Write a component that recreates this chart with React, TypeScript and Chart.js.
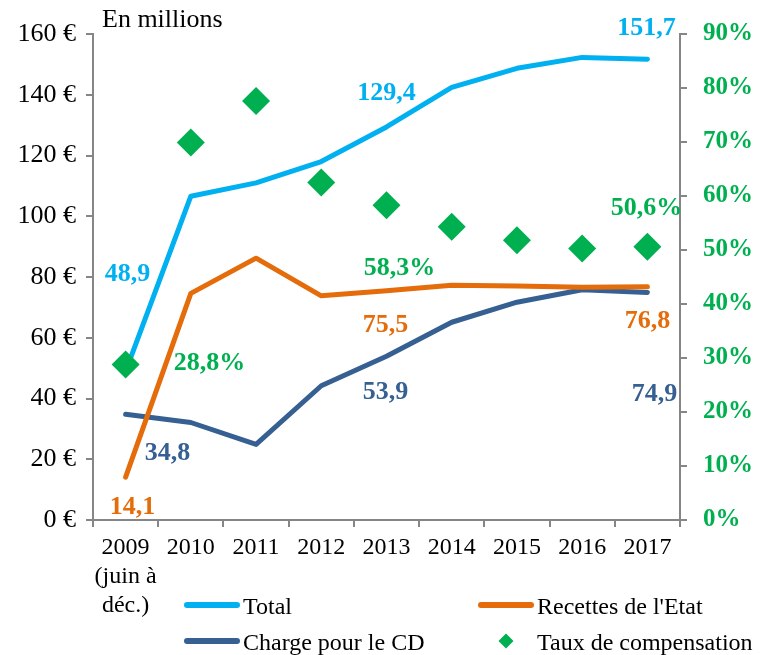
import React, { useEffect, useRef } from 'react';
import { Chart, registerables } from 'chart.js';

Chart.register(...registerables);

const SERIF = "'Liberation Serif', 'Times New Roman', serif";

const categories: (string | string[])[] = [
  ['2009', '(juin à', 'déc.)'],
  '2010', '2011', '2012', '2013', '2014', '2015', '2016', '2017',
];
const totalValues = [48.9, 106.6, 111.0, 118.0, 129.4, 142.4, 148.7, 152.3, 151.7];
const recettesValues = [14.1, 74.6, 86.2, 73.8, 75.5, 77.3, 77.0, 76.6, 76.8];
const chargeValues = [34.8, 32.1, 24.9, 44.2, 53.9, 65.1, 71.7, 75.8, 74.9];
const tauxValues = [28.8, 69.9, 77.6, 62.5, 58.3, 54.3, 51.8, 50.3, 50.6];

const leftMax = 160;
const leftStep = 20;
const rightMax = 90;
const rightStep = 10;

const seriesNames = ['Total', "Recettes de l'Etat", 'Charge pour le CD', 'Taux de compensation'];
const seriesColors = ['#00B0F0', '#E46C0A', '#376092', '#00B050'];
const seriesValues = [totalValues, recettesValues, chargeValues, tauxValues];

// which points carry a value label, and where the label sits relative to its point
const labelledPoints = [
  { ds: 0, idx: 0, dx: 2, dy: -97 },
  { ds: 0, idx: 4, dx: 0, dy: -34 },
  { ds: 0, idx: 8, dx: -1, dy: -31 },
  { ds: 1, idx: 0, dx: 7, dy: 30 },
  { ds: 1, idx: 4, dx: -1, dy: 35 },
  { ds: 1, idx: 8, dx: 0, dy: 35 },
  { ds: 2, idx: 0, dx: 42, dy: 39 },
  { ds: 2, idx: 4, dx: -1, dy: 36 },
  { ds: 2, idx: 8, dx: 7, dy: 102 },
  { ds: 3, idx: 0, dx: 84, dy: -1 },
  { ds: 3, idx: 4, dx: 13, dy: 63 },
  { ds: 3, idx: 8, dx: -1, dy: -38 },
];

const fmt = (v: number) => v.toFixed(1).replace('.', ',');

const overlayPlugin = {
  id: 'overlay',
  afterDatasetsDraw(chart: any) {
    const ctx = chart.ctx as CanvasRenderingContext2D;
    ctx.save();
    ctx.font = `bold 26px ${SERIF}`;
    ctx.textAlign = 'center';
    ctx.textBaseline = 'middle';
    for (const lp of labelledPoints) {
      const el = chart.getDatasetMeta(lp.ds).data[lp.idx];
      const v = seriesValues[lp.ds][lp.idx];
      const text = lp.ds === 3 ? fmt(v) + '%' : fmt(v);
      ctx.fillStyle = seriesColors[lp.ds];
      ctx.fillText(text, el.x + lp.dx, el.y + lp.dy);
    }
    ctx.restore();
  },
  afterDraw(chart: any) {
    const ctx = chart.ctx as CanvasRenderingContext2D;
    const area = chart.chartArea;
    ctx.save();
    // unit caption
    ctx.font = `26px ${SERIF}`;
    ctx.fillStyle = '#000';
    ctx.textAlign = 'left';
    ctx.textBaseline = 'alphabetic';
    ctx.fillText('En millions', area.left + 9, 27);

    // legend
    const items = [
      { ds: 0, x: 184, y: 605 },
      { ds: 1, x: 478, y: 605 },
      { ds: 2, x: 184, y: 641 },
      { ds: 3, x: 478, y: 641 },
    ];
    ctx.font = `24px ${SERIF}`;
    for (const it of items) {
      const color = seriesColors[it.ds];
      if (it.ds === 3) {
        const cx = it.x + 28;
        const r = 7.5;
        ctx.fillStyle = color;
        ctx.beginPath();
        ctx.moveTo(cx - r, it.y);
        ctx.lineTo(cx, it.y - r);
        ctx.lineTo(cx + r, it.y);
        ctx.lineTo(cx, it.y + r);
        ctx.closePath();
        ctx.fill();
      } else {
        ctx.strokeStyle = color;
        ctx.lineWidth = 6;
        ctx.lineCap = 'round';
        ctx.beginPath();
        ctx.moveTo(it.x + 3, it.y);
        ctx.lineTo(it.x + 53, it.y);
        ctx.stroke();
      }
      ctx.fillStyle = '#000';
      ctx.textBaseline = 'alphabetic';
      ctx.fillText(seriesNames[it.ds], it.x + 59, it.y + 9);
    }
    ctx.restore();
  },
};

const AXIS_GRAY = '#868686';

export default function App() {
  const ref = useRef<HTMLCanvasElement>(null);
  useEffect(() => {
    document.body.style.margin = '0';
    if (!ref.current) return;
    const lineDs = (i: number, order: number) => ({
      type: 'line' as const,
      label: seriesNames[i],
      data: seriesValues[i],
      borderColor: seriesColors[i],
      backgroundColor: seriesColors[i],
      borderWidth: 5,
      pointRadius: 0,
      tension: 0,
      borderCapStyle: 'round' as const,
      borderJoinStyle: 'round' as const,
      yAxisID: 'y',
      order,
    });
    const chart = new Chart(ref.current, {
      type: 'line',
      data: {
        labels: categories,
        datasets: [
          lineDs(0, 3),
          lineDs(1, 1),
          lineDs(2, 2),
          {
            type: 'line',
            label: seriesNames[3],
            data: tauxValues,
            showLine: false,
            pointStyle: 'rectRot',
            pointRadius: 14,
            pointBorderWidth: 0,
            borderWidth: 0,
            backgroundColor: seriesColors[3],
            borderColor: seriesColors[3],
            yAxisID: 'y1',
            order: 0,
          } as any,
        ],
      },
      options: {
        responsive: false,
        animation: false,
        devicePixelRatio: 1,
        layout: { padding: { top: 34, left: 0, right: 0, bottom: 0 } },
        plugins: {
          legend: { display: false },
          tooltip: { enabled: false },
          title: { display: false },
        },
        scales: {
          x: {
            type: 'category',
            offset: true,
            grid: {
              display: true,
              offset: true,
              drawOnChartArea: false,
              drawTicks: true,
              tickLength: 7,
              color: AXIS_GRAY,
              lineWidth: 2,
            },
            border: { display: true, color: AXIS_GRAY, width: 2 },
            ticks: {
              font: { family: SERIF, size: 24, lineHeight: 1.22 },
              color: '#000',
              padding: 6,
              maxRotation: 0,
              autoSkip: false,
            },
            afterFit: (s: any) => { s.height = 135; },
          },
          y: {
            type: 'linear',
            position: 'left',
            min: 0,
            max: leftMax,
            ticks: {
              stepSize: leftStep,
              callback: (v: any) => `${v} €`,
              font: { family: SERIF, size: 26 },
              color: '#000',
              padding: 10,
            },
            grid: {
              display: true,
              drawOnChartArea: false,
              drawTicks: true,
              tickLength: 7,
              color: AXIS_GRAY,
              lineWidth: 2,
            },
            border: { display: true, color: AXIS_GRAY, width: 2 },
            afterFit: (s: any) => { s.width = 93; },
          },
          y1: {
            type: 'linear',
            position: 'right',
            min: 0,
            max: rightMax,
            ticks: {
              stepSize: rightStep,
              callback: (v: any) => `${v}%`,
              font: { family: SERIF, size: 25, weight: 'bold' },
              color: seriesColors[3],
              padding: 16,
            },
            grid: {
              display: true,
              drawOnChartArea: false,
              drawTicks: true,
              tickLength: 7,
              color: AXIS_GRAY,
              lineWidth: 2,
            },
            border: { display: true, color: AXIS_GRAY, width: 2 },
            afterFit: (s: any) => { s.width = 91; },
          },
        },
      },
      plugins: [overlayPlugin],
    });
    return () => chart.destroy();
  }, []);
  return (
    <div style={{ width: 771, height: 655, background: '#fff' }}>
      <canvas ref={ref} width={771} height={655} style={{ display: 'block' }} />
    </div>
  );
}
